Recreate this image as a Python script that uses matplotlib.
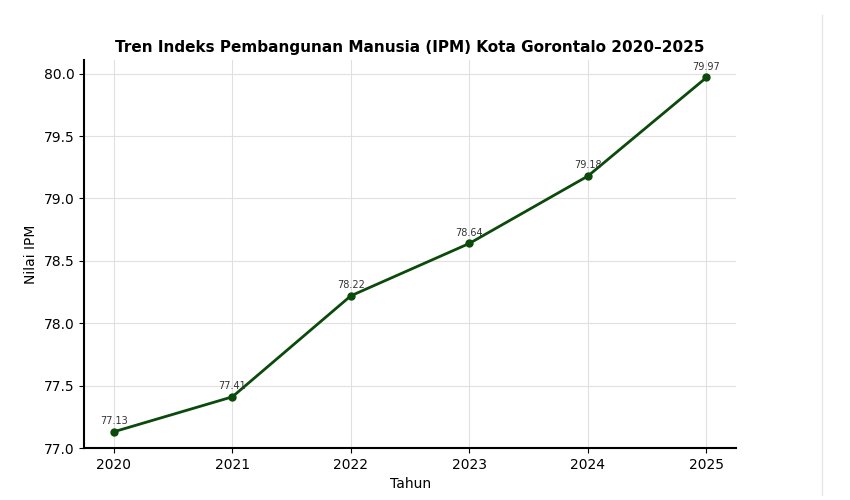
import matplotlib
matplotlib.use("Agg")
import matplotlib.pyplot as plt
from matplotlib.lines import Line2D

years = [2020, 2021, 2022, 2023, 2024, 2025]
ipm = [77.13, 77.41, 78.22, 78.64, 79.18, 79.97]
y_ticks = [77.0, 77.5, 78.0, 78.5, 79.0, 79.5, 80.0]

fig = plt.figure(figsize=(8.5, 5), dpi=100)
ax = fig.add_axes([0.099, 0.104, 0.767, 0.776])

ax.plot(years, ipm, color="#0b4a0b", linewidth=2, marker="o", markersize=5)
for x, y in zip(years, ipm):
    ax.annotate(f"{y:.2f}", (x, y), xytext=(0, 4), textcoords="offset points",
                ha="center", va="bottom", fontsize=7, color="#333333")

ax.set_xticks(years)
ax.set_yticks(y_ticks)
ax.set_ylim(77.0, 80.11)
ax.yaxis.set_major_formatter(matplotlib.ticker.FormatStrFormatter("%.1f"))
ax.grid(True, color="#e0e0e0", linewidth=0.8)
ax.set_axisbelow(True)
for s in ["top", "right"]:
    ax.spines[s].set_visible(False)
ax.spines["left"].set_linewidth(1.5)
ax.spines["bottom"].set_linewidth(1.5)
ax.tick_params(labelsize=10)
ax.set_xlabel("Tahun", fontsize=10)
ax.set_ylabel("Nilai IPM", fontsize=10)
ax.set_title("Tren Indeks Pembangunan Manusia (IPM) Kota Gorontalo 2020–2025",
             fontsize=11, fontweight="bold")

fig.add_artist(Line2D([822/850, 822/850], [0.01, 0.97], color="#e6e6e6", linewidth=1,
                      transform=fig.transFigure))

fig.savefig("out.png", dpi=100)
